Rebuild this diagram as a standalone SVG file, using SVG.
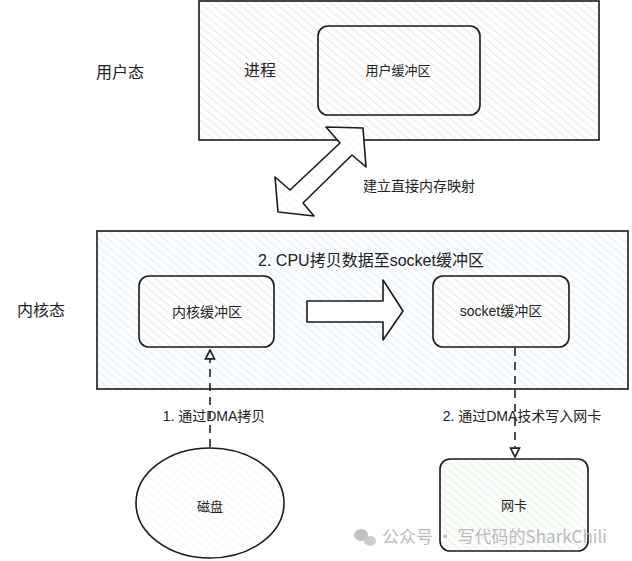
<svg xmlns="http://www.w3.org/2000/svg" width="632" height="561" viewBox="0 0 632 561">
<defs>
<pattern id="hGray" patternUnits="userSpaceOnUse" width="6" height="6" patternTransform="rotate(-50)">
<rect width="6" height="6" fill="#ffffff"/>
<line x1="0" y1="0" x2="0" y2="6" stroke="#cccccc" stroke-width="0.8"/>
</pattern>
<pattern id="hBlue" patternUnits="userSpaceOnUse" width="6" height="6" patternTransform="rotate(-50)">
<rect width="6" height="6" fill="#fbfdff"/>
<line x1="0" y1="0" x2="0" y2="6" stroke="#c2d7ec" stroke-width="0.8"/>
</pattern>
<pattern id="hGreen" patternUnits="userSpaceOnUse" width="6" height="6" patternTransform="rotate(-50)">
<rect width="6" height="6" fill="#fbfefb"/>
<line x1="0" y1="0" x2="0" y2="6" stroke="#cde2ca" stroke-width="0.8"/>
</pattern>
<pattern id="hLight" patternUnits="userSpaceOnUse" width="6" height="6" patternTransform="rotate(-50)">
<rect width="6" height="6" fill="#ffffff"/>
<line x1="0" y1="0" x2="0" y2="6" stroke="#e8e8e8" stroke-width="0.8"/>
</pattern>
<marker id="ahOpen" viewBox="0 0 10 10" refX="9" refY="5" markerWidth="7" markerHeight="7" orient="auto">
<path d="M1,1 L9,5 L1,9 Z" fill="#ffffff" stroke="#222" stroke-width="1.5"/>
</marker>
<style>
.t{font-family:"Liberation Sans","Noto Sans CJK SC",sans-serif;fill:#222;text-anchor:middle;dominant-baseline:central}
.box{stroke:#1a1a1a;stroke-width:1.6}
.dash{stroke:#222;stroke-width:1.6;stroke-dasharray:8 6;fill:none}
</style>
</defs>
<rect width="632" height="561" fill="#ffffff"/>

<g id="userspace">
<rect class="box" x="199" y="1" width="400" height="139" fill="url(#hGray)"/>
<text class="t" x="120" y="72" font-size="16">用户态</text>
<text class="t" x="260" y="70" font-size="16">进程</text>
</g>
<g id="userbuf">
<rect class="box" x="318" y="26" width="162" height="89" rx="10" fill="url(#hGray)"/>
<text class="t" x="398" y="70" font-size="13">用户缓冲区</text>
</g>

<g id="kernelspace">
<rect class="box" x="97" y="231" width="531" height="158" fill="url(#hBlue)"/>
<text class="t" x="41" y="310" font-size="16">内核态</text>
<text class="t" x="371" y="260" font-size="16">2. CPU拷贝数据至socket缓冲区</text>
</g>
<g id="kernelbuf">
<rect class="box" x="139" y="276" width="135" height="71" rx="10" fill="url(#hGray)"/>
<text class="t" x="207" y="312" font-size="14">内核缓冲区</text>
</g>
<g id="socketbuf">
<rect class="box" x="433" y="276" width="136" height="71" rx="10" fill="url(#hGray)"/>
<text class="t" x="501" y="311" font-size="14">socket缓冲区</text>
</g>
<g id="disk">
<ellipse class="box" cx="210" cy="503" rx="74" ry="55" fill="url(#hLight)"/>
<text class="t" x="210" y="506" font-size="13">磁盘</text>
</g>
<g id="nic">
<rect class="box" x="440" y="459" width="148" height="92" rx="10" fill="url(#hGreen)"/>
<text class="t" x="514" y="505" font-size="13">网卡</text>
</g>

<g id="connectors">
<polygon class="box" fill="url(#hLight)" stroke-linejoin="round" points="363,128 366,167 352,155 303,203 314,216 278,212 275,177 290,190 340,143 326,127"/>
<text class="t" x="419" y="186" font-size="14">建立直接内存映射</text>
<polygon class="box" fill="#ffffff" stroke-linejoin="round" points="307,301 383,301 383,280 403,311 383,340 383,322 307,322"/>
<line class="dash" x1="210" y1="447" x2="210" y2="350" marker-end="url(#ahOpen)"/>
<text class="t" x="214" y="416" font-size="14">1. 通过DMA拷贝</text>
<line class="dash" x1="515" y1="348" x2="515" y2="457" marker-end="url(#ahOpen)"/>
<text class="t" x="522" y="416" font-size="14">2. 通过DMA技术写入网卡</text>
</g>

<g id="watermark" opacity="0.85">
<ellipse cx="361" cy="535" rx="7" ry="6" fill="#b8b8b8"/>
<ellipse cx="370" cy="541" rx="6" ry="5" fill="#c4c4c4"/>
<text x="382" y="543" font-size="17" font-family="'Noto Sans CJK SC','Liberation Sans',sans-serif" fill="#b0b0b0">公众号 · 写代码的SharkChili</text>
</g>
</svg>
